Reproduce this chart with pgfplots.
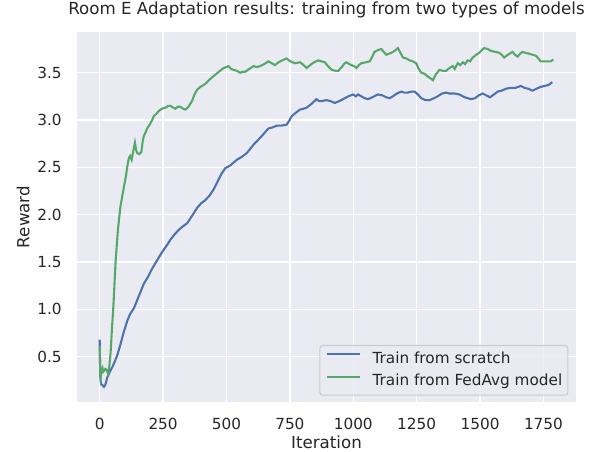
\documentclass[border=0pt]{standalone}
\usepackage{fontspec}
\setmainfont{DejaVu Sans}
\usepackage{pgfplots}
\pgfplotsset{compat=1.18}
\definecolor{bgc}{HTML}{EAEAF2}
\definecolor{textc}{HTML}{262626}
\definecolor{sblue}{HTML}{4C72B0}
\definecolor{sgreen}{HTML}{55A868}
\definecolor{legedge}{HTML}{CCCCCC}
\begin{document}
\begin{tikzpicture}
\useasboundingbox (-55.44pt,-36pt) rectangle (379.44pt,289.44pt);
\begin{axis}[
  scale only axis,
  width=359.3pt, height=266.4pt,
  xmin=-89.5, xmax=1878.5, ymin=0.02, ymax=3.93,
  xtick={0,250,...,1750},
  ytick={0.5,1.0,1.5,2.0,2.5,3.0,3.5},
  axis background/.style={fill=bgc},
  axis line style={draw=none},
  major tick length=0pt,
  grid=major,
  grid style={white, line width=1pt},
  /pgf/number format/assume math mode=true,
  /pgf/number format/1000 sep={},
  tick label style={font=\fontsize{11}{13}\selectfont, text=textc, inner sep=0pt},
  xticklabel style={anchor=north, yshift=-11.7pt},
  yticklabel style={anchor=east, xshift=-10.8pt, /pgf/number format/fixed, /pgf/number format/fixed zerofill, /pgf/number format/precision=1},
  title={Room E Adaptation results: training from two types of models},
  title style={at={(0.5,1.0252)}, anchor=base, font=\fontsize{12}{14}\selectfont, text=textc, inner sep=0pt},
  xlabel={Iteration},
  xlabel style={at={(axis description cs:0.5,-0.1269)}, anchor=base, font=\fontsize{12}{14}\selectfont, text=textc, inner sep=0pt},
  ylabel={Reward},
  ylabel style={at={(axis description cs:-0.0955,0.5)}, anchor=base, font=\fontsize{12}{14}\selectfont, text=textc, inner sep=0pt},
  legend cell align=left,
  legend image code/.code={\draw[#1, line width=1.5pt] (0pt,3.6pt) -- (24pt,3.6pt);},
  legend style={at={(1,0)}, anchor=south east, xshift=-5.5pt, yshift=4.5pt,
    fill=bgc, fill opacity=0.8, text opacity=1, draw=legedge, line width=0.8pt,
    rounded corners=2pt, font=\fontsize{11}{13}\selectfont, text=textc,
    inner xsep=4pt, inner ysep=1.6pt,
    nodes={inner xsep=0pt, inner ysep=2.65pt, text height=8.5pt, text depth=2.5pt},
    column sep=8.4pt},
]
\addplot[sblue, line width=1.5pt] coordinates {
(0,0.68) (2,0.30) (5,0.21) (10,0.20) (17,0.18) (22,0.20) (30,0.28) (40,0.34) (50,0.39) (60,0.45)
(70,0.52) (82,0.63) (95,0.76) (109,0.88) (120,0.95) (135,1.01) (150,1.11) (165,1.21) (174,1.27)
(190,1.34) (205,1.42) (227,1.52) (245,1.60) (266,1.68) (280,1.74) (295,1.79) (312,1.84) (330,1.88)
(345,1.91) (365,1.99) (384,2.07) (400,2.12) (415,2.15) (433,2.20) (450,2.27) (465,2.35) (480,2.43)
(495,2.49) (515,2.52) (528,2.55) (541,2.58) (560,2.61) (580,2.65) (595,2.70) (607,2.74) (625,2.79)
(639,2.83) (652,2.87) (665,2.91) (680,2.92) (698,2.94) (715,2.94) (737,2.95) (747,2.99) (757,3.04)
(775,3.08) (790,3.11) (805,3.12) (816,3.13) (835,3.17) (855,3.22) (865,3.20) (875,3.20) (895,3.21)
(910,3.20) (927,3.18) (945,3.20) (960,3.22) (980,3.25) (999,3.27) (1010,3.25) (1019,3.27) (1032,3.25)
(1045,3.23) (1058,3.22) (1075,3.24) (1097,3.27) (1115,3.26) (1130,3.24) (1143,3.23) (1156,3.25)
(1172,3.28) (1189,3.30) (1200,3.29) (1215,3.29) (1230,3.30) (1242,3.30) (1255,3.27) (1268,3.23)
(1285,3.21) (1301,3.21) (1318,3.23) (1333,3.25) (1350,3.28) (1366,3.29) (1379,3.28) (1400,3.28)
(1418,3.27) (1440,3.24) (1464,3.22) (1480,3.23) (1495,3.26) (1510,3.28) (1525,3.26) (1539,3.24)
(1555,3.27) (1569,3.30) (1585,3.31) (1602,3.33) (1620,3.34) (1640,3.34) (1661,3.36) (1675,3.34)
(1690,3.33) (1707,3.31) (1722,3.33) (1739,3.35) (1755,3.36) (1770,3.37) (1785,3.40)
};
\addlegendentry{Train from scratch}
\addplot[sgreen, line width=1.5pt] coordinates {
(0,0.61) (2,0.33) (4,0.28) (8,0.36) (11,0.38) (14,0.34) (17,0.35) (22,0.37) (27,0.36) (33,0.32)
(38,0.40) (43,0.54) (48,0.78) (54,1.03) (58,1.25) (63,1.52) (68,1.70) (72,1.84) (77,1.97) (82,2.09)
(90,2.21) (96,2.30) (103,2.40) (109,2.51) (115,2.60) (120,2.62) (126,2.58) (133,2.68) (139,2.76)
(144,2.68) (148,2.65) (156,2.64) (164,2.66) (170,2.78) (174,2.83) (181,2.87) (187,2.91) (197,2.95)
(207,3.00) (213,3.04) (225,3.07) (235,3.10) (246,3.12) (260,3.13) (270,3.15) (279,3.15) (290,3.13)
(299,3.12) (308,3.14) (318,3.14) (328,3.12) (338,3.11) (350,3.14) (364,3.20) (374,3.27) (384,3.32)
(397,3.35) (410,3.37) (420,3.39) (430,3.42) (443,3.45) (456,3.48) (470,3.51) (489,3.55) (500,3.56)
(508,3.57) (518,3.54) (528,3.53) (541,3.52) (554,3.50) (565,3.51) (574,3.51) (590,3.54) (607,3.57)
(620,3.56) (633,3.57) (648,3.59) (665,3.62) (678,3.60) (691,3.58) (705,3.61) (720,3.63) (737,3.65)
(752,3.62) (770,3.60) (790,3.61) (800,3.59) (816,3.55) (830,3.58) (845,3.61) (862,3.63) (875,3.62)
(888,3.61) (900,3.57) (915,3.53) (930,3.52) (941,3.52) (955,3.56) (966,3.60) (973,3.61) (985,3.59)
(993,3.58) (1003,3.57) (1013,3.55) (1022,3.58) (1032,3.60) (1050,3.61) (1065,3.62) (1075,3.67)
(1084,3.72) (1098,3.74) (1111,3.75) (1120,3.72) (1130,3.69) (1140,3.70) (1150,3.71) (1163,3.73)
(1176,3.76) (1186,3.71) (1196,3.66) (1210,3.65) (1222,3.63) (1235,3.62) (1248,3.60) (1258,3.54)
(1268,3.50) (1280,3.49) (1294,3.46) (1305,3.44) (1314,3.42) (1325,3.48) (1340,3.53) (1353,3.52)
(1366,3.52) (1380,3.55) (1392,3.57) (1400,3.54) (1412,3.60) (1422,3.58) (1432,3.61) (1441,3.59)
(1451,3.63) (1461,3.62) (1471,3.66) (1485,3.69) (1497,3.71) (1507,3.74) (1517,3.76) (1530,3.75)
(1543,3.73) (1560,3.72) (1576,3.71) (1585,3.69) (1595,3.66) (1610,3.69) (1628,3.72) (1638,3.69)
(1648,3.67) (1658,3.70) (1667,3.72) (1680,3.71) (1694,3.70) (1707,3.69) (1720,3.68) (1730,3.65)
(1739,3.62) (1760,3.62) (1779,3.62) (1789,3.64)
};
\addlegendentry{Train from FedAvg model}
\end{axis}
\end{tikzpicture}
\end{document}
